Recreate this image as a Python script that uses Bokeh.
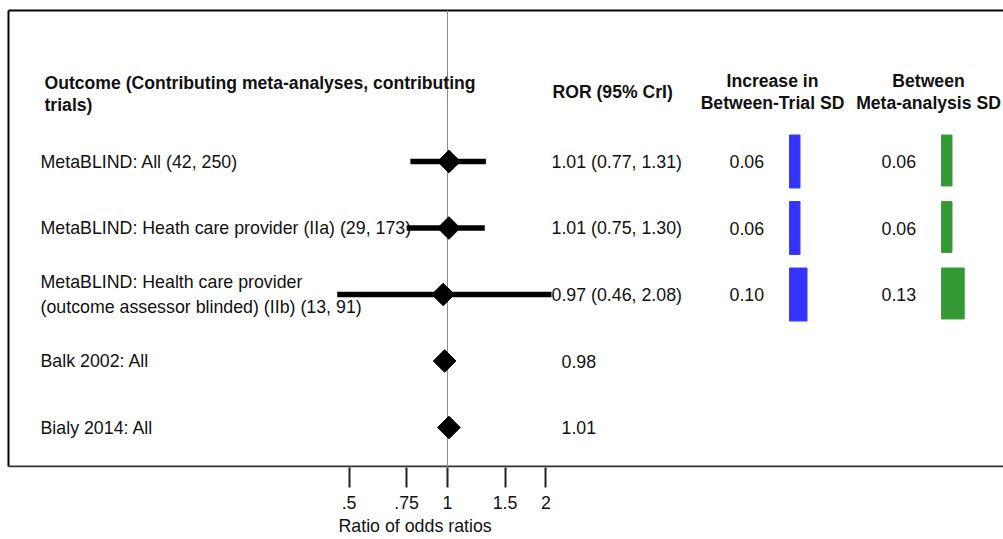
import math
from bokeh.plotting import figure
from bokeh.models import Range1d, LinearScale, FixedTicker, Title
from bokeh.core.properties import value
from bokeh.embed import file_html
from bokeh.resources import INLINE

# ---------------- data ----------------
outcomes = [
    "MetaBLIND: All (42, 250)",
    "MetaBLIND: Heath care provider (IIa) (29, 173)",
    "MetaBLIND: Health care provider\n(outcome assessor blinded) (IIb)  (13, 91)",
    "Balk 2002: All",
    "Bialy 2014: All",
]
ror = [1.01, 1.01, 0.97, 0.98, 1.01]
ci_low = [0.77, 0.75, 0.46, None, None]
ci_high = [1.31, 1.30, 2.08, None, None]
trial_sd = [0.06, 0.06, 0.10]
meta_sd = [0.06, 0.06, 0.13]
tick_values = [0.5, 0.75, 1, 1.5, 2]
tick_labels = [".5", ".75", "1", "1.5", "2"]
header_outcome = ["Outcome (Contributing meta-analyses, contributing", "trials)"]
header_ror = "ROR (95%  CrI)"
header_trial = ["Increase in", "Between-Trial SD"]
header_meta = ["Between", "Meta-analysis SD"]
axis_title = "Ratio of odds ratios"

# ---------------- layout ----------------
W, H = 1003, 539
FRAME_BOTTOM = 467
X_ONE = 447          # pixel of ROR = 1
PX_PER_LN = 142.0    # pixels per natural-log unit
ROW0, ROW_STEP = 161, 66.5
FONT = value("Liberation Sans")
FS = "17.8px"
FSB = "17.6px"
TXT = "#111111"
BAR_K = 175.0
BAR_H = 53

row_y = [ROW0 + i * ROW_STEP for i in range(len(outcomes))]

p = figure(
    width=W, height=H,
    x_axis_type="log",
    x_range=Range1d(math.exp(-X_ONE / PX_PER_LN), math.exp((W - X_ONE) / PX_PER_LN)),
    y_range=Range1d(FRAME_BOTTOM, 0),
    y_axis_location=None,
    output_backend="svg", toolbar_location=None,
    min_border_left=0, min_border_right=0, min_border_top=0,
    min_border_bottom=H - FRAME_BOTTOM,
)
p.extra_x_ranges = {"px": Range1d(0, W)}
p.extra_x_scales = {"px": LinearScale()}
p.grid.visible = False
p.outline_line_color = None
p.background_fill_color = "white"
p.border_fill_color = "white"

ax = p.xaxis[0]
ax.ticker = FixedTicker(ticks=tick_values)
ax.major_label_overrides = {v: l for v, l in zip(tick_values, tick_labels)}
ax.axis_line_color = None
ax.minor_tick_line_color = None
ax.major_tick_in = 0
ax.major_tick_out = 20
ax.major_tick_line_width = 2
ax.major_tick_line_color = "#222222"
ax.major_label_standoff = 8
ax.major_label_text_font = "Liberation Sans"
ax.major_label_text_font_size = FS
ax.major_label_text_color = TXT

# axis title, placed left of centre as in the original
p.add_layout(Title(text=axis_title, align="left", offset=338, standoff=5,
                   text_font="Liberation Sans", text_font_size=FS,
                   text_font_style="normal", text_color=TXT), "below")

# frame borders
p.segment(x0=[8, 8], y0=[10, 10], x1=[W, 8], y1=[10, FRAME_BOTTOM - 1],
          x_range_name="px", line_color="black", line_width=2)
p.segment(x0=[8], y0=[466], x1=[W], y1=[466],
          x_range_name="px", line_color="#333333", line_width=2)

# reference line at ROR = 1
p.segment(x0=[1], x1=[1], y0=[10], y1=[FRAME_BOTTOM], line_color="#8c8c8c", line_width=1)

# outcome labels
p.text(x=[40] * len(outcomes), y=row_y, text=outcomes, x_range_name="px",
       text_font=FONT, text_font_size=FS, text_color=TXT,
       text_baseline="middle", text_line_height=1.25)

# confidence intervals
ci_rows = [i for i in range(len(ror)) if ci_low[i] is not None]
p.segment(x0=[ci_low[i] for i in ci_rows], x1=[ci_high[i] for i in ci_rows],
          y0=[row_y[i] for i in ci_rows], y1=[row_y[i] for i in ci_rows],
          line_color="black", line_width=5.5)

# point estimates (diamonds)
p.scatter(x=ror, y=row_y, marker="square", angle=math.pi / 4, size=16,
          fill_color="black", line_color="black")

# ROR column
ror_text = [f"{r:.2f} ({l:.2f}, {h:.2f})" if l is not None else f"{r:.2f}"
            for r, l, h in zip(ror, ci_low, ci_high)]
ror_x = [551 if l is not None else 561 for l in ci_low]
p.text(x=ror_x, y=row_y, text=ror_text, x_range_name="px",
       text_font=FONT, text_font_size=FS, text_color=TXT, text_baseline="middle")

# SD columns
n_sd = len(trial_sd)
p.text(x=[729] * n_sd, y=row_y[:n_sd], text=[f"{v:.2f}" for v in trial_sd], x_range_name="px",
       text_font=FONT, text_font_size=FS, text_color=TXT, text_baseline="middle")
p.text(x=[881] * n_sd, y=row_y[:n_sd], text=[f"{v:.2f}" for v in meta_sd], x_range_name="px",
       text_font=FONT, text_font_size=FS, text_color=TXT, text_baseline="middle")
p.quad(left=[789] * n_sd, right=[789 + v * BAR_K for v in trial_sd],
       top=[y - BAR_H / 2 for y in row_y[:n_sd]], bottom=[y + BAR_H / 2 for y in row_y[:n_sd]],
       x_range_name="px", fill_color="#3333ff", line_color="#3d3dff", line_width=1)
p.quad(left=[941] * n_sd, right=[941 + v * BAR_K for v in meta_sd],
       top=[y - BAR_H / 2 for y in row_y[:n_sd]], bottom=[y + BAR_H / 2 - 2 for y in row_y[:n_sd]],
       x_range_name="px", fill_color="#339933", line_color="#3fa03f", line_width=1)

# headers
bold = dict(x_range_name="px", text_font=FONT, text_font_size=FSB, text_color=TXT,
            text_font_style="bold", text_baseline="middle")
p.text(x=[44, 44], y=[82, 104], text=header_outcome, **bold)
p.text(x=[552], y=[91], text=[header_ror], **bold)
p.text(x=[772, 772], y=[80, 102], text=header_trial, text_align="center", **bold)
p.text(x=[928, 928], y=[80, 102], text=header_meta, text_align="center", **bold)

open("out.html", "w").write(file_html(p, INLINE))
